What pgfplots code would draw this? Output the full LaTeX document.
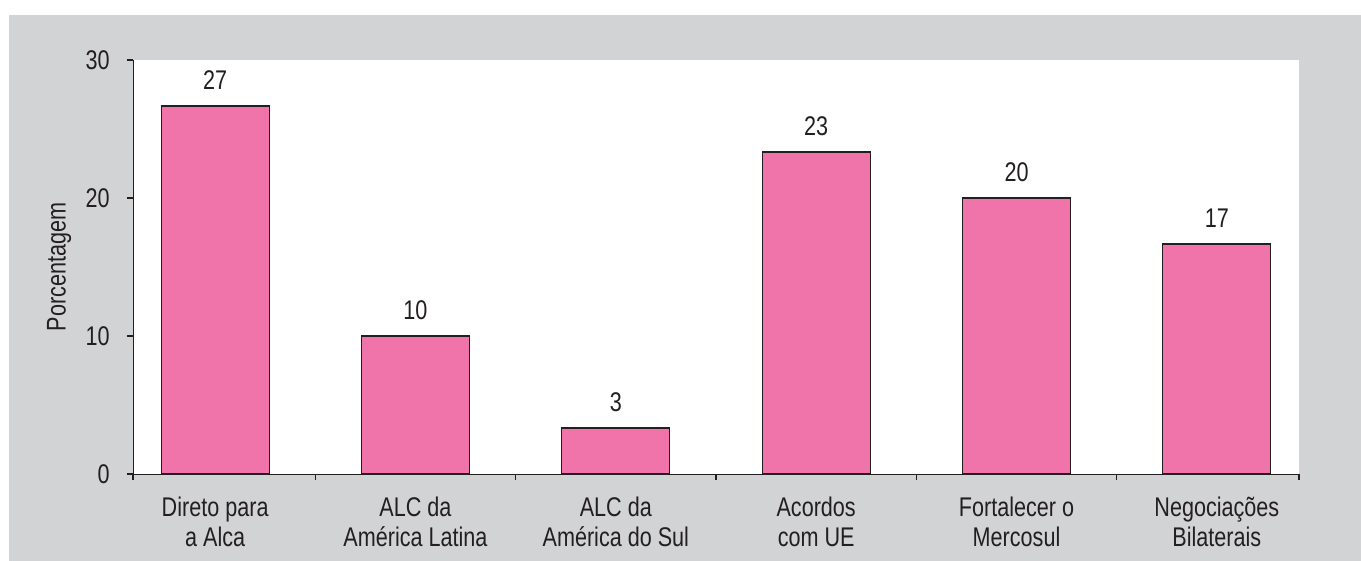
\documentclass[border=0pt]{standalone}
\usepackage{pgfplots}
\pgfplotsset{compat=1.18}
\usepackage{fontspec}
\setmainfont{Liberation Sans}[FakeStretch=0.8]
\definecolor{bggray}{RGB}{210,211,213}
\definecolor{barpink}{RGB}{240,116,170}
\definecolor{ink}{RGB}{35,31,32}
\begin{document}
\fontsize{13.5}{15}\selectfont
\begin{tikzpicture}
\fill[white] (0,0) rectangle (680.5pt,280.5pt);
\fill[bggray] (4.5pt,0) rectangle (680.5pt,273pt);
\begin{axis}[
    at={(66.5pt,43.5pt)}, anchor=south west,
    scale only axis,
    width=583pt, height=207pt,
    axis background/.style={fill=white},
    axis x line*=bottom, axis y line*=left,
    axis line style={ink, -},
    xmin=-0.41, xmax=5.41, ymin=0, ymax=30,
    xtick={-0.41,0.5,1.5,2.5,3.5,4.5,5.41}, xticklabels={},
    ytick={0,10,20,30},
    tick align=outside,
    major tick length=3pt,
    tick style={ink, line width=0.6pt},
    every tick label/.append style={text=ink, font=\fontsize{13.5}{15}\selectfont},
    yticklabel style={xshift=-4pt},
    /pgf/number format/assume math mode=true,
    extra x ticks={0,1,2,3,4,5},
    extra x tick labels={Direto para\\a Alca, ALC da\\América Latina, ALC da\\América do Sul, Acordos\\com UE, Fortalecer o\\Mercosul, Negociações\\Bilaterais},
    extra x tick style={tick style={draw=none}, xticklabel style={align=center, yshift=-4pt}},
    ylabel={Porcentagem},
    ylabel style={text=ink, font=\fontsize{13.5}{15}\selectfont, yshift=-2pt},
    ybar, bar width=54pt,
    nodes near coords={\pgfmathprintnumber[fixed, precision=0]{\pgfplotspointmeta}},
    every node near coord/.append style={text=ink, font=\fontsize{13.5}{15}\selectfont, inner sep=0pt, yshift=8pt},
]
\addplot[draw=ink, fill=barpink, line width=0.6pt] coordinates {
    (0,26.67) (1,10) (2,3.33) (3,23.33) (4,20) (5,16.67)
};
\end{axis}
\end{tikzpicture}
\end{document}
